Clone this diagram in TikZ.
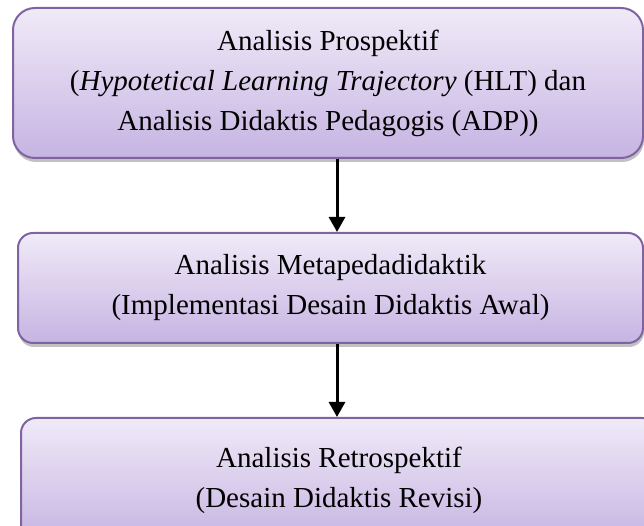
\documentclass[tikz,border=0pt]{standalone}
\usepackage{fontspec}
\setmainfont{Liberation Serif}
\usetikzlibrary{shadows,arrows.meta}
\definecolor{boxtop}{HTML}{F0EAF8}
\definecolor{boxbot}{HTML}{C6B4E2}
\definecolor{boxline}{HTML}{8064A2}
\tikzset{
  stage/.style={draw=boxline, line width=2pt, top color=boxtop, bottom color=boxbot,
    align=center, inner sep=0pt, font=\fontsize{29}{40}\selectfont,
    drop shadow={shadow xshift=1pt, shadow yshift=-4pt, opacity=0.35, fill=black!70}},
  flow/.style={line width=3pt, -{Triangle[length=15pt,width=16pt]}}
}
\begin{document}
\begin{tikzpicture}[x=1pt,y=1pt]
\useasboundingbox (0,0) rectangle (644,526);
\clip (0,0) rectangle (644,526);
\node[stage, rounded corners=22pt, minimum width=630pt, minimum height=150pt] (b1) at (328,443)
  {Analisis Prospektif\\(\textit{Hypotetical Learning Trajectory} (HLT) dan\\Analisis Didaktis Pedagogis (ADP))};
\node[stage, rounded corners=15pt, minimum width=625pt, minimum height=110pt] (b2) at (330.5,238)
  {Analisis Metapedadidaktik\\(Implementasi Desain Didaktis Awal)};
\node[stage, rounded corners=15pt, minimum width=636pt, minimum height=124pt] (b3) at (339,46)
  {Analisis Retrospektif\\(Desain Didaktis Revisi)};
\coordinate (ax) at (337,0);
\draw[flow] (b1.south -| ax) -- (b2.north -| ax);
\draw[flow] (b2.south -| ax) -- (b3.north -| ax);
\end{tikzpicture}
\end{document}
